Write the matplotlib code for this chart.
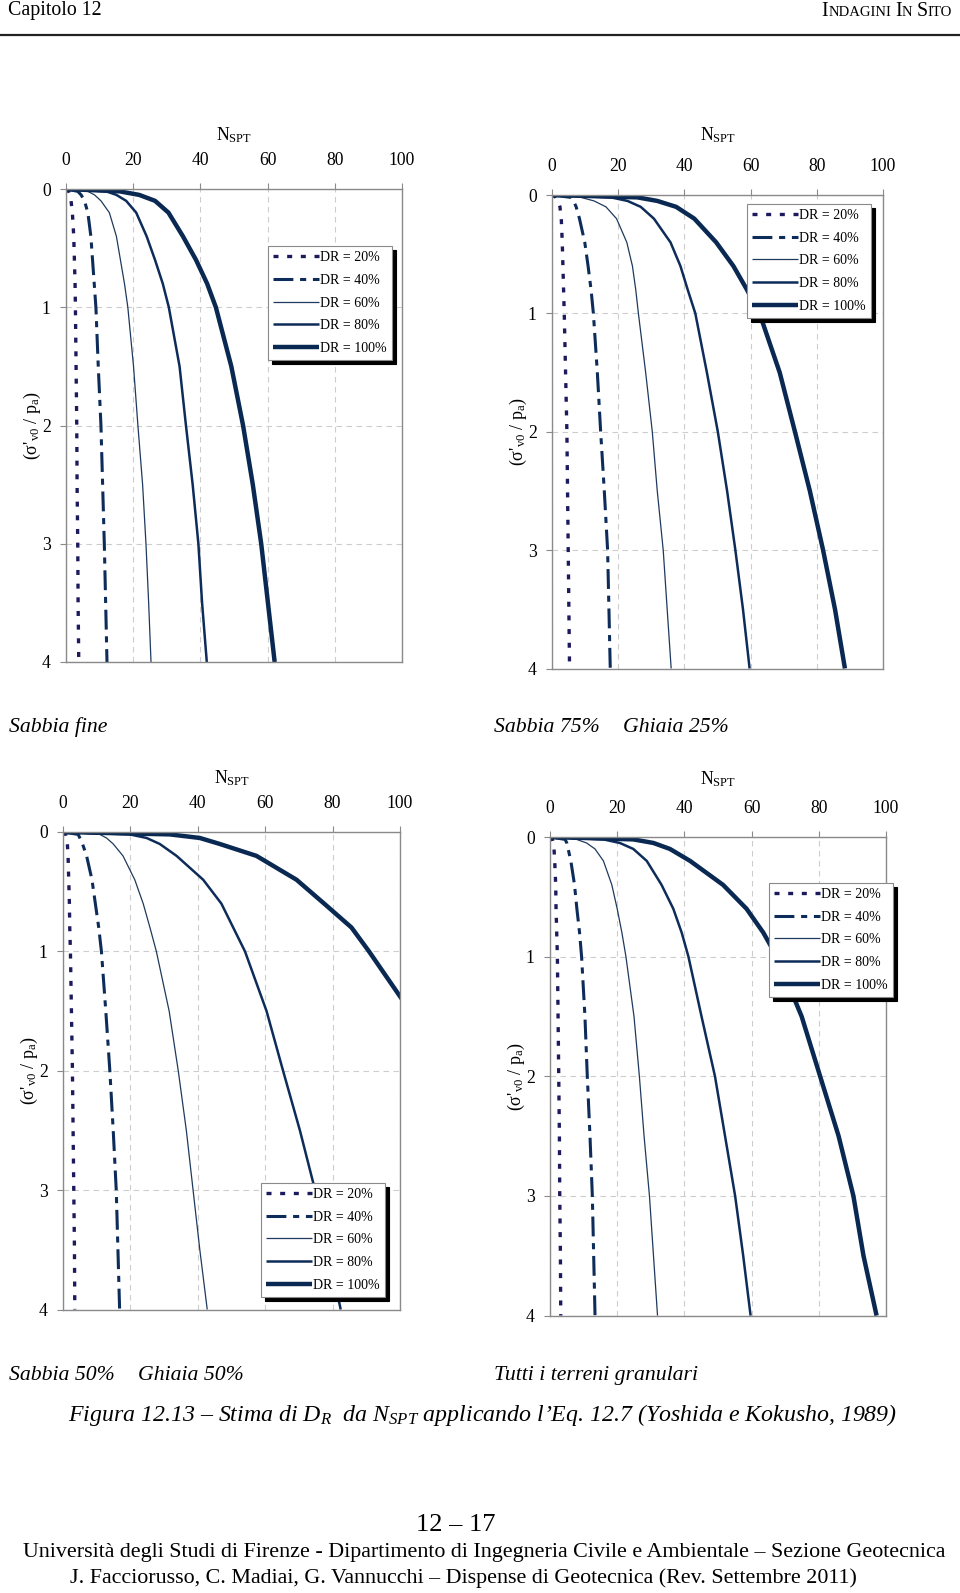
import numpy as np
import matplotlib.pyplot as plt
from matplotlib.lines import Line2D

plt.rcParams['font.family'] = ['Liberation Serif', 'DejaVu Serif']
plt.rcParams['mathtext.fontset'] = 'custom'
plt.rcParams['mathtext.rm'] = 'Liberation Serif'
plt.rcParams['mathtext.it'] = 'Liberation Serif:italic'

W, H = 960, 1593

# profondità normalizzata (sigma'v0 / pa)
depth = [0, 0.02, 0.05, 0.1, 0.2, 0.4, 0.6, 0.8, 1, 1.5, 2, 2.5, 3, 3.5, 4]
dr_labels = ['DR = 20%', 'DR = 40%', 'DR = 60%', 'DR = 80%', 'DR = 100%']
x_ticks = [0, 20, 40, 60, 80, 100]
y_ticks = [0, 1, 2, 3, 4]

# Sabbia fine
fine_20 = [0, 0.8, 1.2, 1.5, 1.9, 2.3, 2.5, 2.7, 2.8, 3.0, 3.2, 3.3, 3.5, 3.6, 3.8]
fine_40 = [0, 3.5, 4.5, 5.5, 6.5, 7.4, 7.9, 8.4, 8.9, 9.6, 10.4, 10.9, 11.4, 11.8, 12.2]
fine_60 = [0, 6.5, 8.5, 10.4, 12.9, 15.0, 16.2, 17.4, 18.4, 20.1, 21.4, 22.8, 23.8, 24.6, 25.3]
fine_80 = [0, 12.0, 15.0, 17.9, 20.9, 24.0, 26.5, 28.8, 30.6, 33.8, 35.7, 37.7, 39.4, 40.5, 41.9]
fine_100 = [0, 16.0, 21.8, 26.5, 30.5, 34.8, 38.7, 42.0, 44.6, 49.2, 52.7, 55.6, 58.1, 60.1, 62.1]

# Sabbia 75% Ghiaia 25%
s75_20 = [0, 1.2, 1.8, 2.4, 2.8, 3.1, 3.3, 3.5, 3.7, 4.1, 4.5, 4.7, 4.9, 5.1, 5.3]
s75_40 = [0, 5.7, 6.5, 7.3, 8.3, 9.9, 10.9, 11.8, 12.5, 13.7, 14.7, 15.8, 16.8, 17.2, 17.6]
s75_60 = [0, 8.7, 12.7, 16.3, 19.5, 22.6, 24.3, 25.3, 26.1, 28.3, 30.3, 31.8, 33.6, 34.8, 36.0]
s75_80 = [0, 17.8, 22.8, 26.8, 30.8, 35.8, 38.8, 41.0, 43.3, 46.8, 50.1, 52.9, 55.4, 57.7, 59.7]
s75_100 = [0, 25.8, 31.8, 37.5, 43.0, 49.6, 54.8, 58.9, 62.7, 68.8, 73.4, 77.9, 81.9, 85.5, 88.5]

# Sabbia 50% Ghiaia 50%
s50_20 = [0, 0.8, 1.1, 1.3, 1.5, 1.7, 1.9, 2.0, 2.2, 2.5, 2.8, 3.0, 3.2, 3.4, 3.5]
s50_40 = [0, 4.5, 5.0, 5.8, 7.0, 8.6, 9.6, 10.6, 11.4, 12.7, 13.9, 14.9, 15.8, 16.3, 16.8]
s50_60 = [0, 10.9, 12.9, 14.9, 17.8, 21.3, 23.8, 25.8, 27.7, 31.5, 34.2, 36.6, 38.6, 40.6, 42.8]
s50_80 = [0, 19.8, 24.8, 28.7, 33.7, 41.6, 47.0, 50.5, 54.0, 60.4, 65.3, 70.3, 74.8, 78.7, 82.4]
s50_100 = [0, 31.7, 40.6, 46.5, 57.4, 69.3, 77.5, 85.6, 90.8, 103.0,
           np.nan, np.nan, np.nan, np.nan, np.nan]

# Tutti i terreni granulari
all_20 = [0, 0.7, 1.0, 1.2, 1.4, 1.7, 1.8, 2.0, 2.2, 2.4, 2.6, 2.8, 2.9, 3.1, 3.2]
all_40 = [0, 4.5, 5.0, 5.4, 6.2, 7.3, 8.0, 8.8, 9.4, 10.4, 11.1, 11.9, 12.6, 13.0, 13.4]
all_60 = [0, 7.9, 10.9, 13.4, 15.9, 18.4, 20.0, 21.4, 22.6, 25.0, 26.6, 28.0, 29.6, 30.8, 32.0]
all_80 = [0, 15.9, 20.8, 24.8, 28.8, 33.2, 36.7, 39.2, 41.2, 45.1, 49.1, 52.1, 55.1, 57.5, 59.7]
all_100 = [0, 24.8, 30.8, 35.7, 41.7, 51.5, 58.5, 63.5, 67.5, 74.9, 80.4, 85.9, 90.3, 93.3, 97.2]

# stili delle curve
styles = [
    dict(color='#1c1a5c', lw=2.4, dashes=(1.5, 2.6)),
    dict(color='#0d2c5a', lw=2.2, dashes=(6.5, 2.2, 2.0, 2.2)),
    dict(color='#1f3a5e', lw=0.9),
    dict(color='#0d2c5a', lw=1.8),
    dict(color='#0a2952', lw=3.2),
]

fig = plt.figure(figsize=(W / 100, H / 100), dpi=100)


def fx(x):
    return x / W


def fy(y):
    return 1 - y / H


# (left, right, top, bottom) in pixel, curve, legenda (x0, ytop in frazione assi), quota di N_SPT
panels = [
    ((66, 402, 189, 662), [fine_20, fine_40, fine_60, fine_80, fine_100], (0.601, 0.879), 135),
    ((552, 883, 195, 668.5), [s75_20, s75_40, s75_60, s75_80, s75_100], (0.590, 0.981), 135),
    ((63, 400, 832, 1309.5), [s50_20, s50_40, s50_60, s50_80, s50_100], (0.588, 0.265), 778),
    ((550, 886, 837, 1315.6), [all_20, all_40, all_60, all_80, all_100], (0.652, 0.904), 779),
]

for (l, r, t, b), curves, leg_pos, n_y in panels:
    ax = fig.add_axes([fx(l), fy(b), (r - l) / W, (b - t) / H])
    for vals, st in zip(curves, styles):
        ax.plot(vals, depth, solid_capstyle='butt', dash_capstyle='butt', **st)
    ax.set_xlim(0, 100)
    ax.set_ylim(4, 0)
    ax.xaxis.tick_top()
    ax.set_xticks(x_ticks)
    ax.set_yticks(y_ticks)
    ax.tick_params(axis='both', length=4, color='#8a8a8a', labelsize=12.7)
    ax.tick_params(axis='x', pad=10.3)
    ax.tick_params(axis='y', pad=7)
    ax.grid(True, color='#cdcdcd', lw=0.8, ls=(0, (5, 4)))
    for sp in ax.spines.values():
        sp.set_color('#8a8a8a')
        sp.set_linewidth(1.0)

    handles = [Line2D([], [], solid_capstyle='butt', dash_capstyle='butt', **st) for st in styles]
    leg = ax.legend(handles, dr_labels, loc='upper left', bbox_to_anchor=leg_pos,
                    borderaxespad=0, fontsize=10, handlelength=3.3, handletextpad=0.1,
                    labelspacing=0.70, borderpad=0.35, fancybox=False, framealpha=1,
                    edgecolor='#8a8a8a', shadow={'color': 'black', 'alpha': 1, 'ox': 3, 'oy': -3})
    leg.get_frame().set_linewidth(0.8)

    cx = (l + r) / 2
    fig.text(fx(cx), fy(n_y), 'N$_{\\mathrm{SPT}}$', ha='center', va='center', fontsize=12.7)
    y2 = t + (b - t) / 2
    fig.text(fx(l - 34), fy(y2), "(σ'$_{\\mathrm{v0}}$ / p$_{\\mathrm{a}}$)", rotation=90,
             ha='center', va='center', fontsize=13)

# didascalie dei grafici
cap = dict(style='italic', fontsize=15.7, va='center', ha='left')
fig.text(fx(9), fy(727), 'Sabbia fine', **cap)
fig.text(fx(494), fy(727), 'Sabbia 75%', **cap)
fig.text(fx(623), fy(727), 'Ghiaia 25%', **cap)
fig.text(fx(9), fy(1375.5), 'Sabbia 50%', **cap)
fig.text(fx(138), fy(1375.5), 'Ghiaia 50%', **cap)
fig.text(fx(494), fy(1375.5), 'Tutti i terreni granulari', **cap)

fig.text(fx(483), fy(1415), 'Figura 12.13 – Stima di $D_R$  da $N_{SPT}$ applicando l’Eq. 12.7 (Yoshida e Kokusho, 1989)',
         style='italic', fontsize=17.2, ha='center', va='center')

# intestazione
fig.text(fx(8), fy(10), 'Capitolo 12', fontsize=14.3, ha='left', va='center')
fig.add_artist(Line2D([0, 1], [fy(34.5), fy(34.5)], transform=fig.transFigure, color='#222222', lw=1.6))

# maiuscoletto: (testo, corpo, spazio a sinistra)
renderer = fig.canvas.get_renderer()
x_cur = 952
for s, size, gap in reversed([('I', 14.3, 0), ('NDAGINI', 10.6, 0), ('I', 14.3, 4),
                              ('N', 10.6, 0), ('S', 14.3, 4), ('ITO', 10.6, 0)]):
    tx = fig.text(fx(x_cur), fy(12), s, fontsize=size, ha='right', va='baseline' if False else 'center')
    bb = tx.get_window_extent(renderer)
    x_cur -= bb.width + gap

# piè di pagina
fig.text(fx(456), fy(1525), '12 – 17', fontsize=19, ha='center', va='center')
fig.text(fx(484), fy(1552.5),
         'Università degli Studi di Firenze - Dipartimento di Ingegneria Civile e Ambientale – Sezione Geotecnica',
         fontsize=15.8, ha='center', va='center')
fig.text(fx(463), fy(1578),
         'J. Facciorusso, C. Madiai, G. Vannucchi – Dispense di Geotecnica (Rev. Settembre 2011)',
         fontsize=15.85, ha='center', va='center')

fig.savefig('out.png', dpi=100)
